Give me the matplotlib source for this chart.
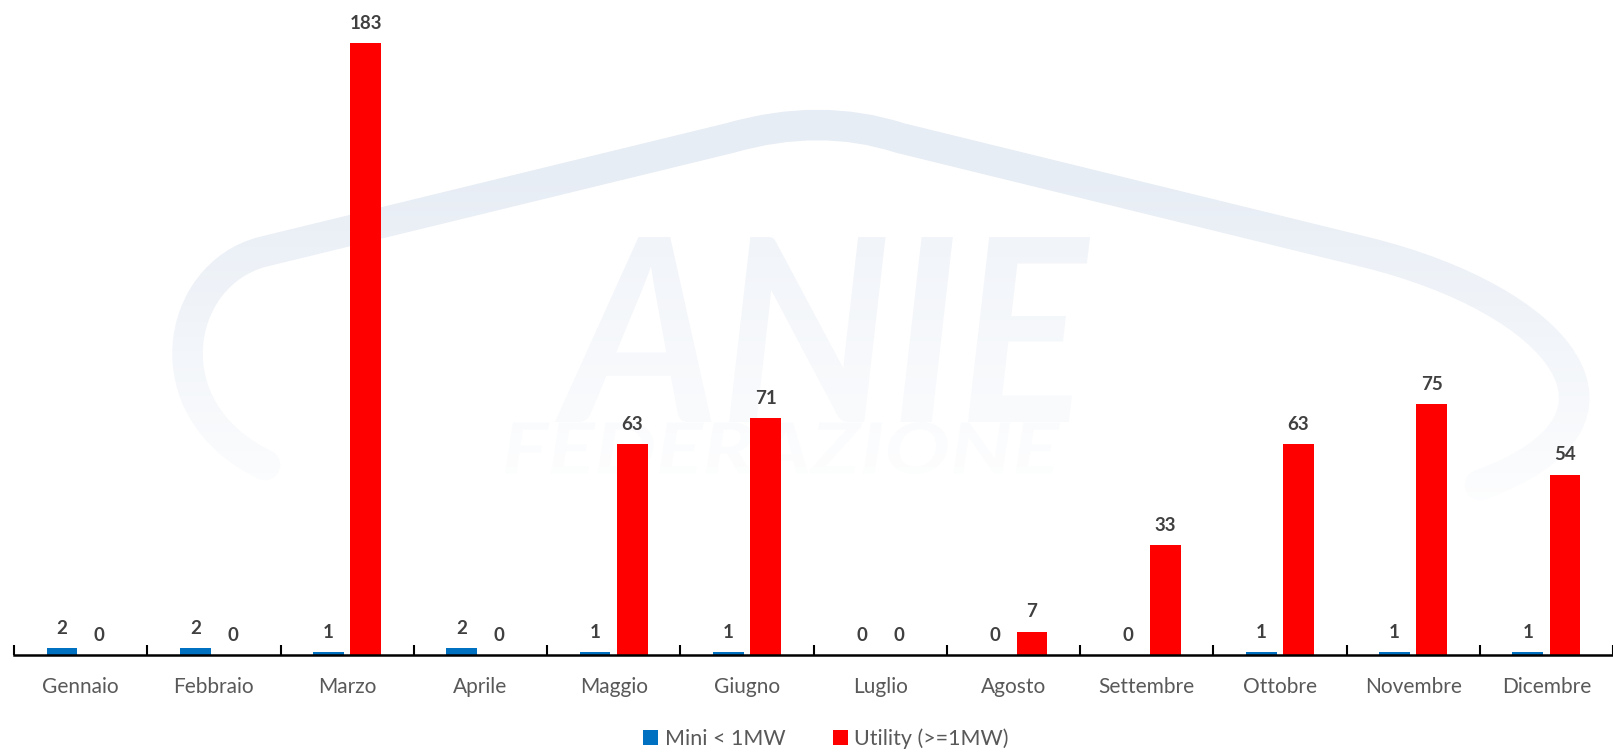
import numpy as np
import matplotlib.pyplot as plt
from matplotlib.path import Path
from matplotlib.patches import PathPatch
from matplotlib.textpath import TextPath
from matplotlib.font_manager import FontProperties
from matplotlib.transforms import Affine2D

mesi = ['Gennaio', 'Febbraio', 'Marzo', 'Aprile', 'Maggio', 'Giugno',
        'Luglio', 'Agosto', 'Settembre', 'Ottobre', 'Novembre', 'Dicembre']
mini = [2, 2, 1, 2, 1, 1, 0, 0, 0, 1, 1, 1]
utility = [0, 0, 183, 0, 63, 71, 0, 7, 33, 63, 75, 54]

plt.rcParams['font.family'] = ['Lato', 'DejaVu Sans']

W, H = 1613, 752
fig = plt.figure(figsize=(W / 100, H / 100), dpi=100)

# filigrana: logo ANIE molto chiaro, coordinate in pixel (y verso l'alto)
bg = fig.add_axes([0, 0, 1, 1])
bg.set_xlim(0, W)
bg.set_ylim(0, H)
bg.axis('off')


def logo_testo(s, box, style, weight, color):
    # testo del logo disegnato come forma, adattato al riquadro (pixel dall'alto)
    tp = TextPath((0, 0), s, size=100,
                  prop=FontProperties(family='Lato', style=style, weight=weight))
    e = tp.get_extents()
    x0, y0, x1, y1 = box
    t = (Affine2D().translate(-e.x0, -e.y0)
         .scale((x1 - x0) / e.width, (y1 - y0) / e.height)
         .translate(x0, H - y1))
    bg.add_patch(PathPatch(t.transform_path(tp), fc=color, ec='none', zorder=1))


def p(x, y):
    return (x, H - y)


verts = [p(265, 465), p(150, 410), p(175, 275), p(262, 252), p(730, 138),
         p(820, 112), p(900, 138), p(1365, 252), p(1560, 300), p(1660, 420),
         p(1480, 485)]
codes = [Path.MOVETO, Path.CURVE4, Path.CURVE4, Path.CURVE4, Path.LINETO,
         Path.CURVE3, Path.CURVE3, Path.LINETO, Path.CURVE4, Path.CURVE4,
         Path.CURVE4]
bg.add_patch(PathPatch(Path(verts, codes), fc='none', ec='#e7edf5', lw=22,
                       capstyle='round', joinstyle='round', zorder=1))
logo_testo('ANIE', (555, 237, 1090, 422), 'italic', 'bold', '#eef2f8')
logo_testo('FEDERAZIONE', (505, 422, 1060, 474), 'italic', 'bold', '#f1f4f9')

# sfumatura verso il basso
ypix = np.arange(H)
alpha = np.clip((ypix - 170) / 360, 0, 0.92)
grad = np.ones((H, 1, 4))
grad[:, 0, 3] = alpha
bg.imshow(grad, extent=(0, W, 0, H), origin='upper', aspect='auto', zorder=2)
bg.set_xlim(0, W)
bg.set_ylim(0, H)

ax = fig.add_axes([14 / W, 97 / H, 1 - 14 / W, 1 - 97 / H])
ax.patch.set_alpha(0)

x = np.arange(len(mesi))
w = 0.23
b1 = ax.bar(x - 0.14, mini, w, color='#0070c0', label='Mini < 1MW')
b2 = ax.bar(x + 0.14, utility, w, color='#ff0000', label='Utility (>=1MW)')

for bars, vals in ((b1, mini), (b2, utility)):
    for r, v in zip(bars, vals):
        ax.annotate(str(v), (r.get_x() + r.get_width() / 2, r.get_height()),
                    xytext=(0, 8), textcoords='offset points', ha='center',
                    va='bottom', fontsize=13.5, fontweight='bold', color='#404040')

ax.set_xlim(-0.5, len(mesi) - 0.5)
ax.set_ylim(0, 196)
ax.set_xticks(x)
ax.set_xticklabels(mesi, fontsize=15, color='#595959')
ax.tick_params(axis='x', length=0, pad=16)
ax.set_xticks(np.arange(-0.5, len(mesi), 1), minor=True)
ax.tick_params(axis='x', which='minor', direction='in', length=7, width=1.5)
ax.set_yticks([])
for s in ['top', 'right', 'left']:
    ax.spines[s].set_visible(False)
ax.spines['bottom'].set_linewidth(1.8)

fig.legend(handles=[b1, b2], loc='center', bbox_to_anchor=(0.512, 1 - 739 / H),
           ncol=2, frameon=False, fontsize=15.5, handlelength=0.7,
           handleheight=0.7, handletextpad=0.3, columnspacing=2.2,
           labelcolor='#595959', borderpad=0)

fig.savefig('out.png', dpi=100)
